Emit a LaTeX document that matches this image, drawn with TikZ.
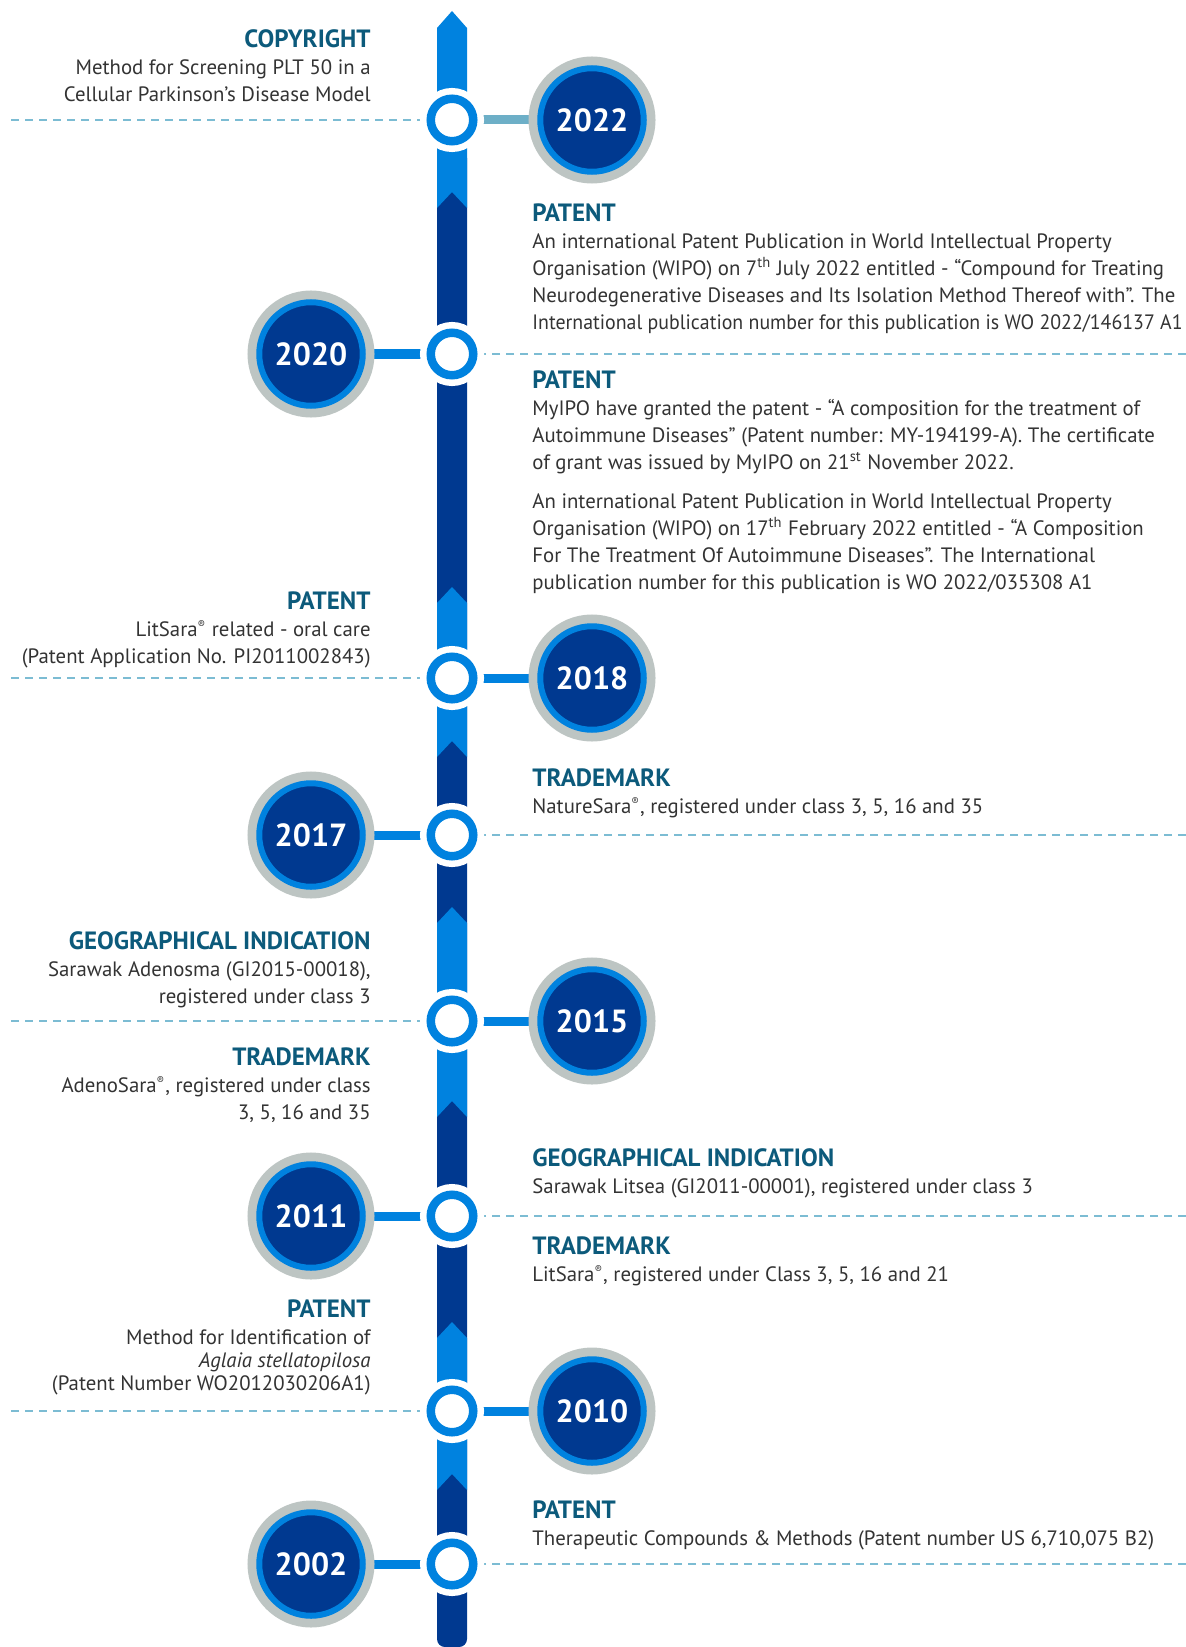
\documentclass[tikz,border=0pt]{standalone}
\usepackage{fontspec}
\setmainfont{PT Sans}
\usepackage{graphicx}
\usepackage{tikz}
\usetikzlibrary{backgrounds}
\definecolor{spineL}{HTML}{0082DF}
\definecolor{spineD}{HTML}{003990}
\definecolor{ringgray}{HTML}{BDC5C3}
\definecolor{headc}{HTML}{0C5A7B}
\definecolor{bodyc}{HTML}{333333}
\definecolor{dashc}{HTML}{7CBCD3}
\definecolor{tealbar}{HTML}{6DAFC7}
\newcommand{\hd}[1]{{\color{headc}\bfseries\fontsize{12.5pt}{13.5pt}\selectfont #1}}
\newcommand{\reg}{\textsuperscript{\fontsize{5.5pt}{6pt}\selectfont ®}}

\begin{document}
\begin{tikzpicture}[x=0.5pt,y=-0.5pt,
  ring/.style={circle,fill=white,draw=spineL,line width=4.25pt,minimum size=21.25pt,inner sep=0pt,
               preaction={draw=white,line width=10.75pt}},
  year/.style={circle,fill=spineD,draw=spineL,line width=3pt,minimum size=51.75pt,inner sep=0pt,
               preaction={draw=ringgray,line width=11.75pt},text=white,font=\bfseries\fontsize{16pt}{16pt}\selectfont},
  link/.style={draw=spineL,line width=4.5pt},
  dashline/.style={draw=dashc,line width=1pt,dash pattern=on 4pt off 3pt},
  lblock/.style={anchor=north east,align=right,inner sep=0pt,text=bodyc,font=\fontsize{10.4pt}{13.5pt}\selectfont},
  rblock/.style={anchor=north west,align=left,inner sep=0pt,text=bodyc,font=\fontsize{10.4pt}{13.5pt}\selectfont}]
\useasboundingbox (0,0) rectangle (1186,1647);

% rings on the spine and year discs
\foreach \yr/\yy/\xx in {2022/120/592, 2020/354/311, 2018/678/592, 2017/835/311,
                         2015/1021/592, 2011/1216/311, 2010/1411/592, 2002/1564/311} {
  \node[ring] (r\yr) at (452,\yy) {};
  \node[year] (y\yr) at (\xx,\yy) {\yr};
}
\foreach \yr/\yy in {2022/120, 2018/678, 2015/1021, 2010/1411}
  \coordinate (e\yr) at (11,\yy);
\foreach \yr/\yy in {2020/354, 2017/835, 2011/1216, 2002/1564}
  \coordinate (e\yr) at (1186,\yy);

\begin{scope}[on background layer]
  % spine
  \fill[spineD,rounded corners=4pt] (437,150) rectangle (467,1647);
  \fill[spineL] (437,28) -- (452,11) -- (467,28) -- (467,208) -- (452,192) -- (437,208) -- cycle;
  \foreach \a/\b in {587/741, 907/1101, 1322/1474}
    \fill[spineL] (437,\a+16) -- (452,\a) -- (467,\a+16) -- (467,\b+16) -- (452,\b) -- (437,\b+16) -- cycle;
  \draw[link,draw=tealbar] (r2022) -- (y2022);
  \foreach \yr in {2020,2018,2017,2015,2011,2010,2002}
    \draw[link] (r\yr) -- (y\yr);
  \foreach \yr in {2022,2020,2018,2017,2015,2011,2010,2002}
    \draw[dashline] (e\yr) -- (r\yr);
\end{scope}

% left texts
\node[lblock] (tcopy) at (371,29) {\hd{COPYRIGHT}\\ Method for Screening PLT 50 in a\\ Cellular Parkinson’s Disease Model};
\node[lblock] (toral) at (371,591) {\hd{PATENT}\\ LitSara\reg{} related - oral care\\ (Patent Application No. PI2011002843)};
\node[lblock] (tadgi) at (371,931) {\hd{GEOGRAPHICAL INDICATION}\\ Sarawak Adenosma (GI2015-00018),\\ registered under class 3};
\node[lblock] (tadtm) at (371,1047) {\hd{TRADEMARK}\\ AdenoSara\reg, registered under class\\ 3, 5, 16 and 35};
\node[lblock] (taglaia) at (371,1299) {\hd{PATENT}\\ Method for Identification of\\[-2pt] \textit{Aglaia stellatopilosa}\\[-2pt] (Patent Number WO2012030206A1)};

% right texts
\node[rblock] (twipo) at (532,203) {\hd{PATENT}\\
  An international Patent Publication in World Intellectual Property\\
  Organisation (WIPO) on 7\textsuperscript{th} July 2022 entitled - “Compound for Treating\\
  Neurodegenerative Diseases and Its Isolation Method Thereof with”. The\\
  \scalebox{0.955}[1]{International publication number for this publication is WO 2022/146137 A1}};
\node[rblock] (tmyipo) at (532,370) {\hd{PATENT}\\
  MyIPO have granted the patent - “A composition for the treatment of\\
  Autoimmune Diseases” (Patent number: MY-194199-A). The certificate\\
  of grant was issued by MyIPO on 21\textsuperscript{st} November 2022.\\[6pt]
  An international Patent Publication in World Intellectual Property\\
  Organisation (WIPO) on 17\textsuperscript{th} February 2022 entitled - “A Composition\\
  For The Treatment Of Autoimmune Diseases”. The International\\
  publication number for this publication is WO 2022/035308 A1};
\node[rblock] (tnature) at (532,768) {\hd{TRADEMARK}\\ NatureSara\reg, registered under class 3, 5, 16 and 35};
\node[rblock] (tlitgi) at (532,1148) {\hd{GEOGRAPHICAL INDICATION}\\ Sarawak Litsea (GI2011-00001), registered under class 3};
\node[rblock] (tlittm) at (532,1236) {\hd{TRADEMARK}\\ LitSara\reg, registered under Class 3, 5, 16 and 21};
\node[rblock] (tthera) at (532,1500) {\hd{PATENT}\\ Therapeutic Compounds \& Methods (Patent number US 6,710,075 B2)};
\end{tikzpicture}
\end{document}
